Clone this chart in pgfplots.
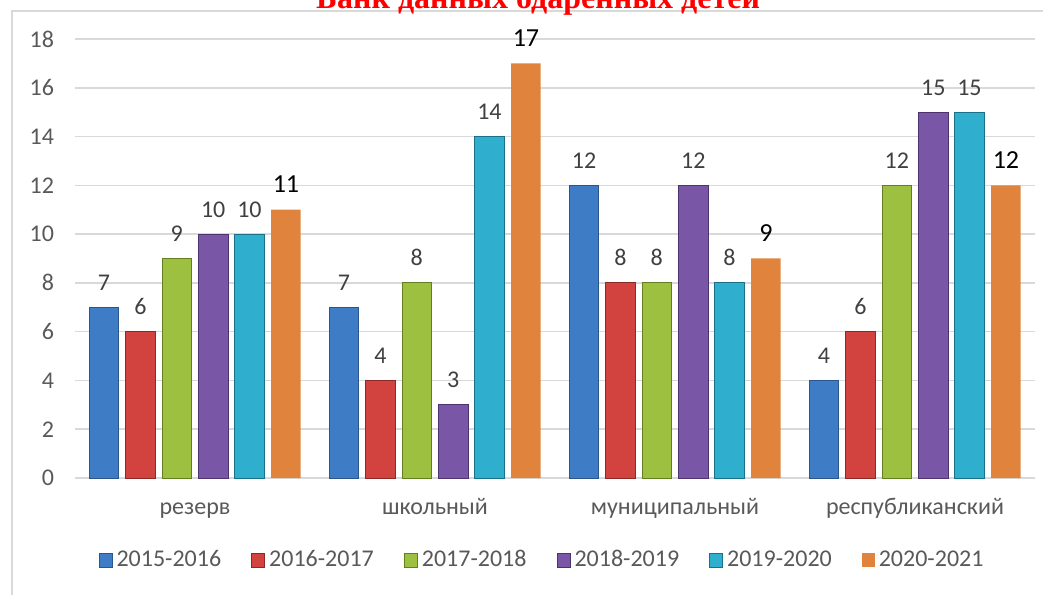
\documentclass[border=0pt]{standalone}
\usepackage{pgfplots}
\pgfplotsset{compat=1.18}
\usepackage{fontspec}
\setmainfont{Carlito}
\newfontfamily\titlefont{Liberation Serif}

\definecolor{bluemid}{HTML}{3F7CC6}
\definecolor{bluedark}{HTML}{2A558F}
\definecolor{redmid}{HTML}{D2423E}
\definecolor{reddark}{HTML}{8E2826}
\definecolor{greenmid}{HTML}{9DC040}
\definecolor{greendark}{HTML}{62801F}
\definecolor{purplemid}{HTML}{7A57A6}
\definecolor{purpledark}{HTML}{4C3370}
\definecolor{cyanmid}{HTML}{30AECD}
\definecolor{cyandark}{HTML}{1A7088}
\definecolor{orangebar}{HTML}{E0843D}
\definecolor{labelgray}{HTML}{595959}
\definecolor{valgray}{HTML}{404040}
\definecolor{gridgray}{HTML}{D9D9D9}

\begin{document}
\begin{tikzpicture}
\begin{axis}[
    at={(0,0)}, anchor=south west,
    scale only axis,
    width=480pt, height=219.5pt,
    xmin=-0.5, xmax=3.5,
    ymin=0, ymax=18,
    ytick={0,2,...,18},
    xtick={0,1,2,3},
    xticklabels={резерв,школьный,муниципальный,республиканский},
    major tick length=0pt,
    axis line style={draw=none},
    ymajorgrids,
    major grid style={gridgray, line width=0.8pt},
    extra y ticks={0},
    extra y tick labels={},
    extra y tick style={grid style={color=gray!45, line width=1.2pt}},
    tick label style={font=\fontsize{12}{14}\selectfont, text=labelgray},
    yticklabel style={anchor=east, xshift=-7pt},
    xticklabel style={anchor=base, yshift=-18pt},
    /pgf/number format/assume math mode=true,
    ybar, bar width=0.123,
    nodes near coords,
    every node near coord/.append style={anchor=base, yshift=8.5pt,
        font=\fontsize{12}{14}\selectfont, text=valgray},
    legend columns=6,
    legend style={at={(0.4875,-0.187)}, anchor=center, draw=none,
        font=\fontsize{12}{14}\selectfont, text=labelgray,
        /tikz/every even column/.append style={column sep=13pt}},
    legend image code/.code={\path[#1] (0pt,-3.5pt) rectangle (6.5pt,3.5pt);},
]
\addplot[bar shift=-0.379, draw=bluedark, line width=0.5pt, fill=bluemid]
    coordinates {(0,7) (1,7) (2,12) (3,4)};
\addplot[bar shift=-0.227, draw=reddark, line width=0.5pt, fill=redmid]
    coordinates {(0,6) (1,4) (2,8) (3,6)};
\addplot[bar shift=-0.076, draw=greendark, line width=0.5pt, fill=greenmid]
    coordinates {(0,9) (1,8) (2,8) (3,12)};
\addplot[bar shift=0.076, draw=purpledark, line width=0.5pt, fill=purplemid]
    coordinates {(0,10) (1,3) (2,12) (3,15)};
\addplot[bar shift=0.227, draw=cyandark, line width=0.5pt, fill=cyanmid]
    coordinates {(0,10) (1,14) (2,8) (3,15)};
\addplot[bar shift=0.379, draw=none, fill=orangebar,
    every node near coord/.append style={font=\fontsize{13}{15}\selectfont, text=black}]
    coordinates {(0,11) (1,17) (2,9) (3,12)};
\legend{2015-2016,2016-2017,2017-2018,2018-2019,2019-2020,2020-2021}
\end{axis}
\draw[gridgray, line width=0.8pt] (-31.5pt,-80pt) -- (-31.5pt,233.5pt) -- (520pt,233.5pt);
\node[anchor=base, text=red, inner sep=0pt,
    font=\titlefont\bfseries\fontsize{16}{19}\selectfont] at (231.5pt,234.5pt)
    {Банк данных одаренных детей};
\pgfresetboundingbox
\path[use as bounding box] (-37.5pt,-58pt) rectangle (484pt,239pt);
\end{tikzpicture}
\end{document}
